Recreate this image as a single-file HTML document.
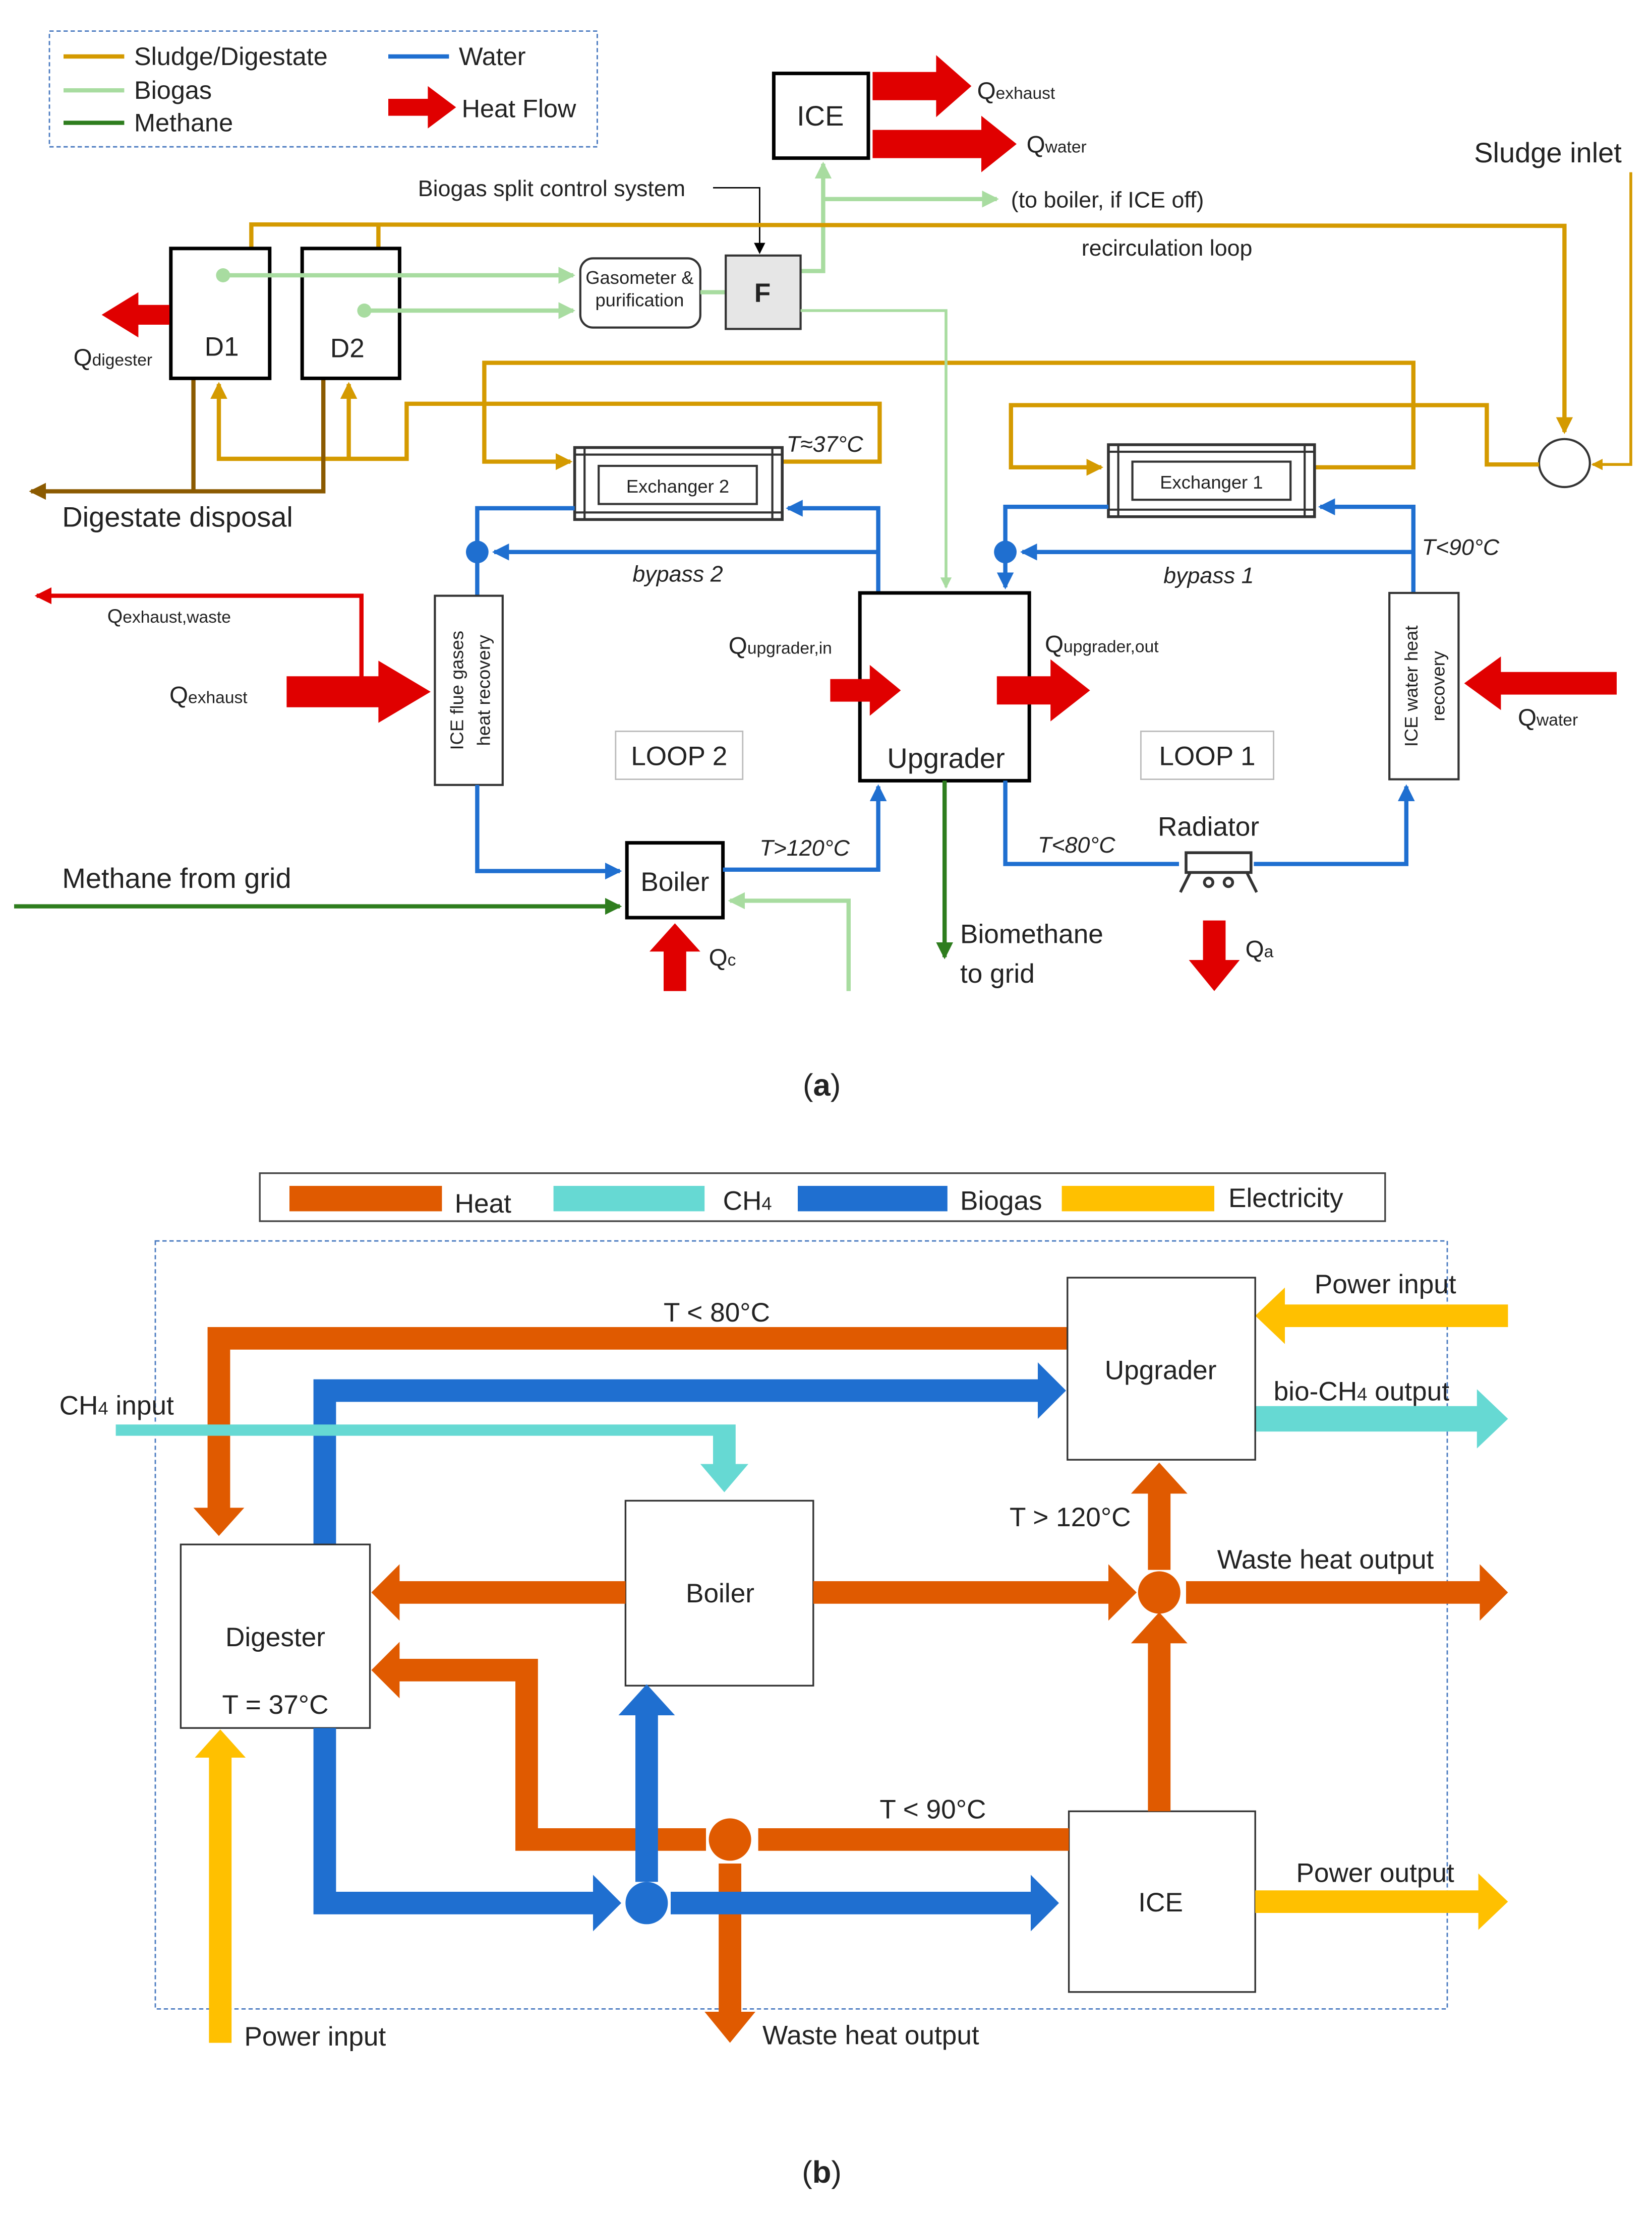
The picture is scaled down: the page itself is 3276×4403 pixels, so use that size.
<!DOCTYPE html>
<html><head><meta charset="utf-8"><style>html,body{margin:0;padding:0;background:#fff}svg{display:block}text{font-family:"Liberation Sans",sans-serif;fill:#222}</style></head><body>
<svg width="3276" height="4403" viewBox="0 0 1170 1572.5" xmlns="http://www.w3.org/2000/svg">
<defs>
<marker id="as" markerWidth="4" markerHeight="4" refX="3.5" refY="2" orient="auto" markerUnits="strokeWidth"><path d="M0,0L4,2L0,4z" fill="#D49A00"/></marker>
<marker id="aw" markerWidth="4" markerHeight="4" refX="3.5" refY="2" orient="auto" markerUnits="strokeWidth"><path d="M0,0L4,2L0,4z" fill="#1F6FD0"/></marker>
<marker id="ab" markerWidth="4" markerHeight="4" refX="3.5" refY="2" orient="auto" markerUnits="strokeWidth"><path d="M0,0L4,2L0,4z" fill="#A8DCA0"/></marker>
<marker id="am" markerWidth="4" markerHeight="4" refX="3.5" refY="2" orient="auto" markerUnits="strokeWidth"><path d="M0,0L4,2L0,4z" fill="#2E7D1E"/></marker>
<marker id="ad" markerWidth="4" markerHeight="4" refX="3.5" refY="2" orient="auto" markerUnits="strokeWidth"><path d="M0,0L4,2L0,4z" fill="#8B5A00"/></marker>
<marker id="ak" markerWidth="8" markerHeight="8" refX="7" refY="4" orient="auto" markerUnits="strokeWidth"><path d="M0,0L8,4L0,8z" fill="#000"/></marker>
<marker id="ar" markerWidth="4" markerHeight="4" refX="3.5" refY="2" orient="auto" markerUnits="strokeWidth"><path d="M0,0L4,2L0,4z" fill="#E00000"/></marker>
</defs>

<!-- ===== PART A ===== -->
<rect x="35" y="22" width="388" height="82" fill="none" stroke="#4a7ac0" stroke-dasharray="3,2"/>
<line x1="45" y1="40" x2="88" y2="40" stroke="#D49A00" stroke-width="3"/>
<line x1="45" y1="64" x2="88" y2="64" stroke="#A8DCA0" stroke-width="3"/>
<line x1="45" y1="87" x2="88" y2="87" stroke="#2E7D1E" stroke-width="3"/>
<text x="95" y="46" font-size="18">Sludge/Digestate</text>
<text x="95" y="70" font-size="18">Biogas</text>
<text x="95" y="93" font-size="18">Methane</text>
<line x1="275" y1="40" x2="318" y2="40" stroke="#1F6FD0" stroke-width="3"/>
<text x="325" y="46" font-size="18">Water</text>
<path d="M275,70h28v-9l20,15l-20,15v-9h-28z" fill="#E00000"/>
<text x="327" y="83" font-size="18">Heat Flow</text>

<!-- ICE -->
<rect x="548" y="52" width="67" height="60" fill="#fff" stroke="#000" stroke-width="2.5"/>
<text x="581" y="89" font-size="20" text-anchor="middle">ICE</text>
<path d="M618,51h45v-12l25,22l-25,22v-12h-45z" fill="#E00000"/>
<text x="692" y="70" font-size="17">Q<tspan font-size="12">exhaust</tspan></text>
<path d="M618,92h77v-10l25,20l-25,20v-10h-77z" fill="#E00000"/>
<text x="727" y="108" font-size="17">Q<tspan font-size="12">water</tspan></text>

<!-- biogas lines -->
<polyline points="567,192 583,192 583,116" fill="none" stroke="#A8DCA0" stroke-width="3" marker-end="url(#ab)"/>
<line x1="583" y1="141" x2="706" y2="141" stroke="#A8DCA0" stroke-width="3" marker-end="url(#ab)"/>
<text x="716" y="147" font-size="16">(to boiler, if ICE off)</text>
<text x="296" y="139" font-size="16">Biogas split control system</text>
<polyline points="505,133 538,133 538,179" fill="none" stroke="#000" stroke-width="1" marker-end="url(#ak)"/>

<!-- sludge main -->
<polyline points="178,176 178,159 1108,160 1108,306" fill="none" stroke="#D49A00" stroke-width="3" marker-end="url(#as)"/>
<line x1="268" y1="159" x2="268" y2="176" stroke="#D49A00" stroke-width="3"/>
<text x="1044" y="115" font-size="20">Sludge inlet</text>
<text x="766" y="181" font-size="16">recirculation loop</text>
<polyline points="1155,122 1155,329 1128,329" fill="none" stroke="#D49A00" stroke-width="2" marker-end="url(#as)"/>
<ellipse cx="1108" cy="328" rx="18" ry="17" fill="#fff" stroke="#333" stroke-width="1.5"/>
<polyline points="1090,329 1053,329 1053,287 716,287 716,331 780,331" fill="none" stroke="#D49A00" stroke-width="3" marker-end="url(#as)"/>
<polyline points="931,331 1001,331 1001,257 343,257 343,327 404,327" fill="none" stroke="#D49A00" stroke-width="3" marker-end="url(#as)"/>
<polyline points="554,327 623,327 623,286 288,286 288,325 155,325 155,272" fill="none" stroke="#D49A00" stroke-width="3" marker-end="url(#as)"/>
<polyline points="247,325 247,272" fill="none" stroke="#D49A00" stroke-width="3" marker-end="url(#as)"/>
<text x="557" y="320" font-size="16" font-style="italic">T≈37°C</text>

<!-- digestate -->
<polyline points="137,268 137,348" fill="none" stroke="#8B5A00" stroke-width="3"/>
<polyline points="229,268 229,348 22,348" fill="none" stroke="#8B5A00" stroke-width="3" marker-end="url(#ad)"/>
<text x="44" y="373" font-size="20">Digestate disposal</text>

<!-- D1 D2 -->
<rect x="121" y="176" width="70" height="92" fill="#fff" stroke="#000" stroke-width="2.5"/>
<rect x="214" y="176" width="69" height="92" fill="#fff" stroke="#000" stroke-width="2.5"/>
<text x="157" y="252" font-size="19" text-anchor="middle">D1</text>
<text x="246" y="253" font-size="19" text-anchor="middle">D2</text>
<polyline points="158,195 406,195" fill="none" stroke="#A8DCA0" stroke-width="3" marker-end="url(#ab)"/>
<polyline points="258,220 406,220" fill="none" stroke="#A8DCA0" stroke-width="3" marker-end="url(#ab)"/>
<circle cx="158" cy="195" r="5" fill="#A8DCA0"/><circle cx="258" cy="220" r="5" fill="#A8DCA0"/>
<path d="M120,216h-22v-9l-26,16l26,16v-9h22z" fill="#E00000"/>
<text x="52" y="259" font-size="17">Q<tspan font-size="12">digester</tspan></text>

<rect x="411" y="183" width="85" height="49" rx="9" fill="#fff" stroke="#333" stroke-width="1.5"/>
<text x="453" y="201" font-size="13" text-anchor="middle">Gasometer &amp;</text>
<text x="453" y="217" font-size="13" text-anchor="middle">purification</text>
<line x1="496" y1="207" x2="514" y2="207" stroke="#A8DCA0" stroke-width="3"/>
<rect x="514" y="181" width="53" height="52" fill="#e6e6e6" stroke="#333" stroke-width="1.5"/>
<text x="540" y="214" font-size="19" font-weight="bold" text-anchor="middle">F</text>
<polyline points="567,220 670,220 670,416" fill="none" stroke="#A8DCA0" stroke-width="2" marker-end="url(#ab)"/>

<!-- exchangers -->
<g>
<rect x="407" y="317" width="147" height="51" fill="#fff" stroke="#333" stroke-width="2"/>
<line x1="407" y1="322" x2="554" y2="322" stroke="#333" stroke-width="1.5"/>
<line x1="407" y1="363" x2="554" y2="363" stroke="#333" stroke-width="1.5"/>
<line x1="414" y1="317" x2="414" y2="368" stroke="#333" stroke-width="1.5"/>
<line x1="547" y1="317" x2="547" y2="368" stroke="#333" stroke-width="1.5"/>
<rect x="424" y="330" width="112" height="27" fill="#fff" stroke="#333" stroke-width="1.5"/>
<text x="480" y="349" font-size="13" text-anchor="middle">Exchanger 2</text>
</g>
<g>
<rect x="785" y="315" width="146" height="51" fill="#fff" stroke="#333" stroke-width="2"/>
<line x1="785" y1="320" x2="931" y2="320" stroke="#333" stroke-width="1.5"/>
<line x1="785" y1="361" x2="931" y2="361" stroke="#333" stroke-width="1.5"/>
<line x1="792" y1="315" x2="792" y2="366" stroke="#333" stroke-width="1.5"/>
<line x1="924" y1="315" x2="924" y2="366" stroke="#333" stroke-width="1.5"/>
<rect x="802" y="327" width="112" height="27" fill="#fff" stroke="#333" stroke-width="1.5"/>
<text x="858" y="346" font-size="13" text-anchor="middle">Exchanger 1</text>
</g>

<!-- loop 2 water -->
<polyline points="622,420 622,360 558,360" fill="none" stroke="#1F6FD0" stroke-width="3" marker-end="url(#aw)"/>
<polyline points="622,391 350,391" fill="none" stroke="#1F6FD0" stroke-width="3" marker-end="url(#aw)"/>
<polyline points="407,360 338,360 338,422" fill="none" stroke="#1F6FD0" stroke-width="3"/>
<circle cx="338" cy="391" r="8" fill="#1F6FD0"/>
<text x="448" y="412" font-size="16" font-style="italic">bypass 2</text>
<rect x="308" y="422" width="48" height="134" fill="#fff" stroke="#333" stroke-width="1.5"/>
<text transform="translate(328,489) rotate(-90)" font-size="13" text-anchor="middle">ICE flue gases</text>
<text transform="translate(347,489) rotate(-90)" font-size="13" text-anchor="middle">heat  recovery</text>
<polyline points="338,556 338,617 439,617" fill="none" stroke="#1F6FD0" stroke-width="3" marker-end="url(#aw)"/>
<rect x="444" y="597" width="68" height="53" fill="#fff" stroke="#000" stroke-width="2.5"/>
<text x="478" y="631" font-size="19" text-anchor="middle">Boiler</text>
<polyline points="512,616 622,616 622,557" fill="none" stroke="#1F6FD0" stroke-width="3" marker-end="url(#aw)"/>
<text x="538" y="606" font-size="16" font-style="italic">T&gt;120°C</text>
<polyline points="10,642 439,642" fill="none" stroke="#2E7D1E" stroke-width="3" marker-end="url(#am)"/>
<text x="44" y="629" font-size="20">Methane from grid</text>
<polyline points="601,702 601,638 517,638" fill="none" stroke="#A8DCA0" stroke-width="3" marker-end="url(#ab)"/>
<path d="M470,702v-28h-10l18,-20l18,20h-10v28z" fill="#E00000"/>
<text x="502" y="684" font-size="17">Q<tspan font-size="12">c</tspan></text>

<polyline points="256,480 256,422 26,422" fill="none" stroke="#E00000" stroke-width="3" marker-end="url(#ar)"/>
<text x="76" y="441" font-size="14">Q<tspan font-size="12">exhaust,waste</tspan></text>
<path d="M203,479h65v-11l37,22l-37,22v-11h-65z" fill="#E00000"/>
<text x="120" y="498" font-size="17">Q<tspan font-size="12">exhaust</tspan></text>

<!-- upgrader -->
<rect x="609" y="420" width="120" height="133" fill="#fff" stroke="#000" stroke-width="2.5"/>
<text x="670" y="544" font-size="20" text-anchor="middle">Upgrader</text>
<path d="M588,481h28v-10l22,18l-22,18v-10h-28z" fill="#E00000"/>
<text x="516" y="463" font-size="17">Q<tspan font-size="12">upgrader,in</tspan></text>
<path d="M706,479h38v-12l28,22l-28,22v-12h-38z" fill="#E00000"/>
<text x="740" y="462" font-size="17">Q<tspan font-size="12">upgrader,out</tspan></text>
<rect x="436" y="518" width="90" height="34" fill="#fff" stroke="#bbb"/>
<text x="481" y="542" font-size="19" text-anchor="middle">LOOP 2</text>
<rect x="808" y="518" width="94" height="34" fill="#fff" stroke="#bbb"/>
<text x="855" y="542" font-size="19" text-anchor="middle">LOOP 1</text>
<polyline points="669,553 669,678" fill="none" stroke="#2E7D1E" stroke-width="3" marker-end="url(#am)"/>
<text x="680" y="668" font-size="19">Biomethane</text>
<text x="680" y="696" font-size="19">to grid</text>

<!-- loop 1 -->
<polyline points="1001,420 1001,359 935,359" fill="none" stroke="#1F6FD0" stroke-width="3" marker-end="url(#aw)"/>
<polyline points="1001,391 724,391" fill="none" stroke="#1F6FD0" stroke-width="3" marker-end="url(#aw)"/>
<polyline points="785,359 712,359 712,416" fill="none" stroke="#1F6FD0" stroke-width="3" marker-end="url(#aw)"/>
<circle cx="712" cy="391" r="8" fill="#1F6FD0"/>
<text x="824" y="413" font-size="16" font-style="italic">bypass 1</text>
<text x="1007" y="393" font-size="16" font-style="italic">T&lt;90°C</text>
<polyline points="712,553 712,612 835,612" fill="none" stroke="#1F6FD0" stroke-width="3"/>
<text x="735" y="604" font-size="16" font-style="italic">T&lt;80°C</text>
<text x="820" y="592" font-size="19">Radiator</text>
<g stroke="#333" stroke-width="2" fill="#fff">
<rect x="840" y="604" width="46" height="14"/>
<line x1="843" y1="618" x2="836" y2="632"/><line x1="883" y1="618" x2="890" y2="632"/>
<circle cx="856" cy="625" r="3"/><circle cx="870" cy="625" r="3"/>
</g>
<polyline points="888,612 996,612 996,557" fill="none" stroke="#1F6FD0" stroke-width="3" marker-end="url(#aw)"/>
<rect x="984" y="420" width="49" height="132" fill="#fff" stroke="#333" stroke-width="1.5"/>
<text transform="translate(1004,486) rotate(-90)" font-size="13" text-anchor="middle">ICE water heat</text>
<text transform="translate(1023,486) rotate(-90)" font-size="13" text-anchor="middle">recovery</text>
<path d="M852,652v28h-10l18,22l18,-22h-10v-28z" fill="#E00000"/>
<text x="882" y="678" font-size="17">Q<tspan font-size="12">a</tspan></text>
<path d="M1145,476h-82v-11l-26,19l26,19v-11h82z" fill="#E00000"/>
<text x="1075" y="514" font-size="17">Q<tspan font-size="12">water</tspan></text>

<text x="582" y="776" font-size="22" text-anchor="middle" font-family="Liberation Serif">(<tspan font-weight="bold">a</tspan>)</text>

<!-- ===== PART B ===== -->
<rect x="184" y="831" width="797" height="34" fill="#fff" stroke="#444" stroke-width="1.2"/>
<rect x="205" y="840" width="108" height="18" fill="#E05A00"/><text x="322" y="859" font-size="19">Heat</text>
<rect x="392" y="840" width="107" height="18" fill="#66D9D3"/><text x="512" y="857" font-size="19">CH<tspan font-size="13">4</tspan></text>
<rect x="565" y="840" width="106" height="18" fill="#1F6FD0"/><text x="680" y="857" font-size="19">Biogas</text>
<rect x="752" y="840" width="108" height="18" fill="#FFC000"/><text x="870" y="855" font-size="19">Electricity</text>

<rect x="110" y="879" width="915" height="544" fill="none" stroke="#4a7ac0" stroke-dasharray="3,2"/>

<!-- heat T<80 -->
<path d="M756,940H147V1068h-10l18,20l18,-20h-10V956H756z" fill="#E05A00"/>
<text x="470" y="936" font-size="19">T &lt; 80°C</text>
<!-- biogas top -->
<path d="M222,1094V977H735v-12l20,20l-20,20v-12H238V1094z" fill="#1F6FD0"/>
<!-- CH4 -->
<path d="M82,1009H521v28h9l-17,20l-17,-20h9v-20H82z" fill="#66D9D3"/>
<text x="42" y="1002" font-size="19">CH<tspan font-size="13">4</tspan> input</text>
<path d="M889,996h157v-12l22,21l-22,21v-12h-157z" fill="#66D9D3"/>
<text x="902" y="992" font-size="19">bio-CH<tspan font-size="13">4</tspan> output</text>
<!-- power input top -->
<path d="M1068,924H910v-12l-21,20l21,20v-12h158z" fill="#FFC000"/>
<text x="931" y="916" font-size="19">Power input</text>

<!-- boxes -->
<rect x="756" y="905" width="133" height="129" fill="#fff" stroke="#333" stroke-width="1.2"/>
<text x="822" y="977" font-size="19" text-anchor="middle">Upgrader</text>
<rect x="757" y="1283" width="132" height="128" fill="#fff" stroke="#333" stroke-width="1.2"/>
<text x="822" y="1354" font-size="19" text-anchor="middle">ICE</text>
<rect x="443" y="1063" width="133" height="131" fill="#fff" stroke="#333" stroke-width="1.2"/>
<text x="510" y="1135" font-size="19" text-anchor="middle">Boiler</text>
<rect x="128" y="1094" width="134" height="130" fill="#fff" stroke="#333" stroke-width="1.2"/>
<text x="195" y="1166" font-size="19" text-anchor="middle">Digester</text>
<text x="195" y="1214" font-size="19" text-anchor="middle">T = 37°C</text>

<!-- heat from boiler -->
<path d="M443,1120H283v-12l-20,20l20,20v-12H443z" fill="#E05A00"/>
<path d="M576,1120H785v-12l20,20l-20,20v-12H576z" fill="#E05A00"/>
<circle cx="821" cy="1128" r="15" fill="#E05A00"/>
<path d="M813,1112V1058h-12l20,-22l20,22h-12V1112z" fill="#E05A00"/>
<text x="715" y="1081" font-size="19">T &gt; 120°C</text>
<path d="M840,1120H1048v-12l20,20l-20,20v-12H840z" fill="#E05A00"/>
<text x="862" y="1111" font-size="19">Waste heat output</text>
<path d="M813,1283V1164h-12l20,-22l20,22h-12V1283z" fill="#E05A00"/>

<!-- ICE heat left -->
<path d="M757,1295H537v16H757z" fill="#E05A00"/>
<circle cx="517" cy="1303" r="15" fill="#E05A00"/>
<path d="M500,1295H381V1175H283v-12l-20,20l20,20v-12H365V1311H500z" fill="#E05A00"/>
<path d="M509,1320V1425h-10l18,22l18,-22h-10V1320z" fill="#E05A00"/>
<text x="540" y="1448" font-size="19">Waste heat output</text>
<text x="623" y="1288" font-size="19">T &lt; 90°C</text>

<!-- biogas lower -->
<path d="M222,1224V1356H420v12l20,-20l-20,-20v12H238V1224z" fill="#1F6FD0"/>
<circle cx="458" cy="1348" r="15" fill="#1F6FD0"/>
<path d="M475,1340H730v-12l20,20l-20,20v-12H475z" fill="#1F6FD0"/>
<path d="M450,1333V1215h-12l20,-22l20,22h-12V1333z" fill="#1F6FD0"/>

<!-- electricity -->
<path d="M889,1339h158v-12l21,20l-21,20v-12h-158z" fill="#FFC000"/>
<text x="918" y="1333" font-size="19">Power output</text>
<path d="M148,1447V1245h-10l18,-20l18,20h-10V1447z" fill="#FFC000"/>
<text x="173" y="1449" font-size="19">Power input</text>

<text x="582" y="1546" font-size="22" text-anchor="middle" font-family="Liberation Serif">(<tspan font-weight="bold">b</tspan>)</text>
</svg>
</body></html>
